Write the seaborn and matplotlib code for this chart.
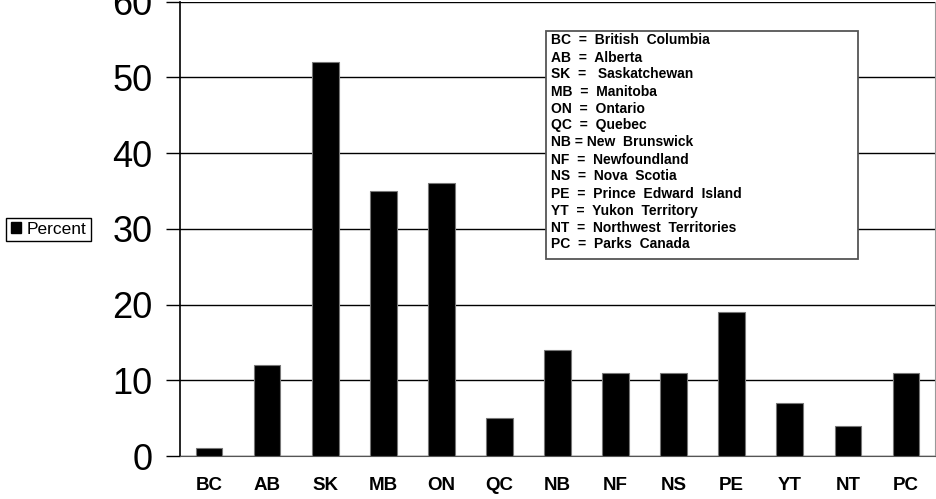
import matplotlib
matplotlib.use('Agg')
import matplotlib.pyplot as plt
from matplotlib.patches import Patch, Rectangle
import seaborn as sns

# data
provinces = ['BC', 'AB', 'SK', 'MB', 'ON', 'QC', 'NB', 'NF', 'NS', 'PE', 'YT', 'NT', 'PC']
percent = [1, 12, 52, 35, 36, 5, 14, 11, 11, 19, 7, 4, 11]
y_ticks = [0, 10, 20, 30, 40, 50, 60]
key_lines = [
    'BC  =  British  Columbia',
    'AB  =  Alberta',
    'SK  =   Saskatchewan',
    'MB  =  Manitoba',
    'ON  =  Ontario',
    'QC  =  Quebec',
    'NB = New  Brunswick',
    'NF  =  Newfoundland',
    'NS  =  Nova  Scotia',
    'PE  =  Prince  Edward  Island',
    'YT  =  Yukon  Territory',
    'NT  =  Northwest  Territories',
    'PC  =  Parks  Canada',
]

sns.set_style('white')
plt.rcParams['font.family'] = ['Liberation Sans', 'DejaVu Sans']
plt.rcParams['text.color'] = 'black'
plt.rcParams['xtick.color'] = 'black'
plt.rcParams['ytick.color'] = 'black'

fig = plt.figure(figsize=(9.37, 4.99), dpi=100)
ax = fig.add_axes([180 / 937, 43 / 499, 755 / 937, 454.3 / 499])

sns.barplot(x=provinces, y=percent, color='black', width=0.46,
            edgecolor='#777777', linewidth=0.8, saturation=1, ax=ax, zorder=3)

ax.set_ylim(0, 60)
ax.set_xlim(-0.5, len(provinces) - 0.5)
ax.set_yticks(y_ticks)
ax.yaxis.grid(True, color='black', linewidth=1)
ax.set_axisbelow(True)

ax.tick_params(axis='y', length=10, width=1, color='black', direction='out',
               labelsize=26, pad=10, left=True)
ax.tick_params(axis='x', length=0, labelsize=13.5, pad=15)
for lbl in ax.get_xticklabels():
    lbl.set_fontweight('bold')

ax.spines['top'].set_visible(False)
ax.spines['left'].set_color('black')
ax.spines['left'].set_linewidth(1.2)
ax.spines['bottom'].set_color('#555555')
ax.spines['right'].set_color('#999999')
ax.set_xlabel('')
ax.set_ylabel('')

# series legend on the left
handle = Patch(facecolor='black', edgecolor='black', label='Percent')
leg = fig.legend(handles=[handle], loc='center', bbox_to_anchor=(48.5 / 937, 1 - 229.5 / 499),
                 fontsize=12.5, frameon=True, fancybox=False, edgecolor='black',
                 handlelength=0.6, handleheight=0.6, handletextpad=0.3, borderpad=0.25,
                 borderaxespad=0, framealpha=1)
leg.get_frame().set_linewidth(1)

# abbreviation key (box, then one text per line)
fig.patches.append(Rectangle((546 / 937, 1 - 259 / 499), 312 / 937, 228 / 499,
                             transform=fig.transFigure, facecolor='white',
                             edgecolor='#555555', linewidth=1.3, zorder=5))
for i, line in enumerate(key_lines):
    fig.text(551 / 937, 1 - (44.5 + 17 * i) / 499, line, fontsize=10, fontweight='bold',
             va='baseline', ha='left', zorder=6)

fig.savefig('out.png', dpi=100)
